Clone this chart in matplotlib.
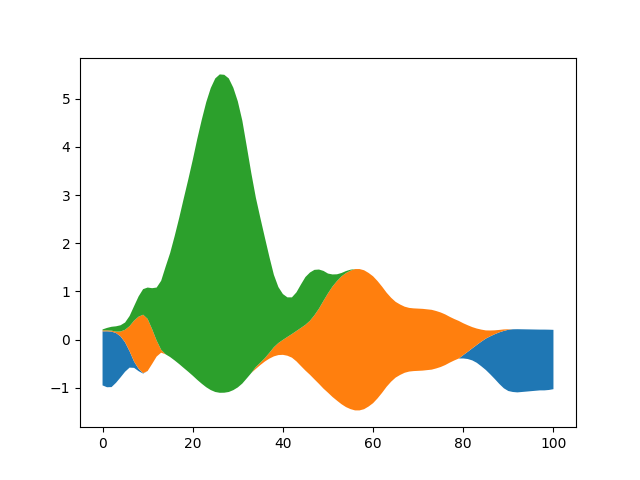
import numpy as np
import matplotlib
matplotlib.use("Agg")
import matplotlib.pyplot as plt

x = np.arange(0, 101)

# layer thicknesses at x = 0, 1, ..., 100 (wiggle baseline)
blue = [1.12, 1.16, 1.15, 1.03, 0.85, 0.61, 0.34, 0.13, 0.05, 0.01,
        0.0, 0.0, 0.0, 0.0, 0.0, 0.0, 0.0, 0.0, 0.0, 0.0,
        0.0, 0.0, 0.0, 0.0, 0.0, 0.0, 0.0, 0.0, 0.0, 0.0,
        0.0, 0.0, 0.0, 0.0, 0.0, 0.0, 0.0, 0.0, 0.0, 0.0,
        0.0, 0.0, 0.0, 0.0, 0.0, 0.0, 0.0, 0.0, 0.0, 0.0,
        0.0, 0.0, 0.0, 0.0, 0.0, 0.0, 0.0, 0.0, 0.0, 0.0,
        0.0, 0.0, 0.0, 0.0, 0.0, 0.0, 0.0, 0.0, 0.0, 0.0,
        0.0, 0.0, 0.0, 0.0, 0.0, 0.0, 0.0, 0.0, 0.0, 0.0,
        0.07, 0.15, 0.25, 0.37, 0.51, 0.65, 0.79, 0.93, 1.07, 1.19,
        1.27, 1.30, 1.31, 1.30, 1.29, 1.28, 1.27, 1.26, 1.26, 1.25,
        1.23]
orange = [0.02, 0.02, 0.02, 0.03, 0.10, 0.26, 0.52, 0.85, 1.08, 1.21,
          1.08, 0.72, 0.33, 0.06, 0.0, 0.0, 0.0, 0.0, 0.0, 0.0,
          0.0, 0.0, 0.0, 0.0, 0.0, 0.0, 0.0, 0.0, 0.0, 0.0,
          0.0, 0.0, 0.0, 0.0, 0.04, 0.05, 0.07, 0.12, 0.19, 0.25,
          0.31, 0.39, 0.49, 0.63, 0.79, 0.95, 1.12, 1.33, 1.56, 1.82,
          2.06, 2.29, 2.48, 2.65, 2.78, 2.87, 2.93, 2.93, 2.88, 2.77,
          2.63, 2.43, 2.20, 1.95, 1.74, 1.57, 1.46, 1.37, 1.32, 1.30,
          1.29, 1.28, 1.26, 1.24, 1.19, 1.13, 1.05, 0.95, 0.86, 0.78,
          0.66, 0.55, 0.44, 0.34, 0.25, 0.17, 0.12, 0.08, 0.05, 0.03,
          0.01, 0.0, 0.0, 0.0, 0.0, 0.0, 0.0, 0.0, 0.0, 0.0,
          0.0]
green = [0.02, 0.05, 0.08, 0.11, 0.13, 0.15, 0.21, 0.30, 0.42, 0.53,
         0.65, 0.85, 1.10, 1.43, 1.82, 2.16, 2.58, 3.03, 3.51, 3.98,
         4.47, 4.99, 5.47, 5.91, 6.26, 6.50, 6.60, 6.59, 6.50, 6.27,
         5.93, 5.45, 4.80, 4.14, 3.51, 3.00, 2.50, 1.99, 1.50, 1.16,
         0.95, 0.82, 0.76, 0.80, 0.90, 0.99, 1.00, 0.94, 0.81, 0.62,
         0.41, 0.25, 0.14, 0.07, 0.04, 0.02, 0.0, 0.0, 0.0, 0.0,
         0.0, 0.0, 0.0, 0.0, 0.0, 0.0, 0.0, 0.0, 0.0, 0.0,
         0.0, 0.0, 0.0, 0.0, 0.0, 0.0, 0.0, 0.0, 0.0, 0.0,
         0.0, 0.0, 0.0, 0.0, 0.0, 0.0, 0.0, 0.0, 0.0, 0.0,
         0.0, 0.0, 0.0, 0.0, 0.0, 0.0, 0.0, 0.0, 0.0, 0.0,
         0.0]

fig, ax = plt.subplots(figsize=(6.4, 4.8), dpi=100)
ax.stackplot(x, blue, orange, green, baseline='wiggle')
plt.savefig('out.png')
